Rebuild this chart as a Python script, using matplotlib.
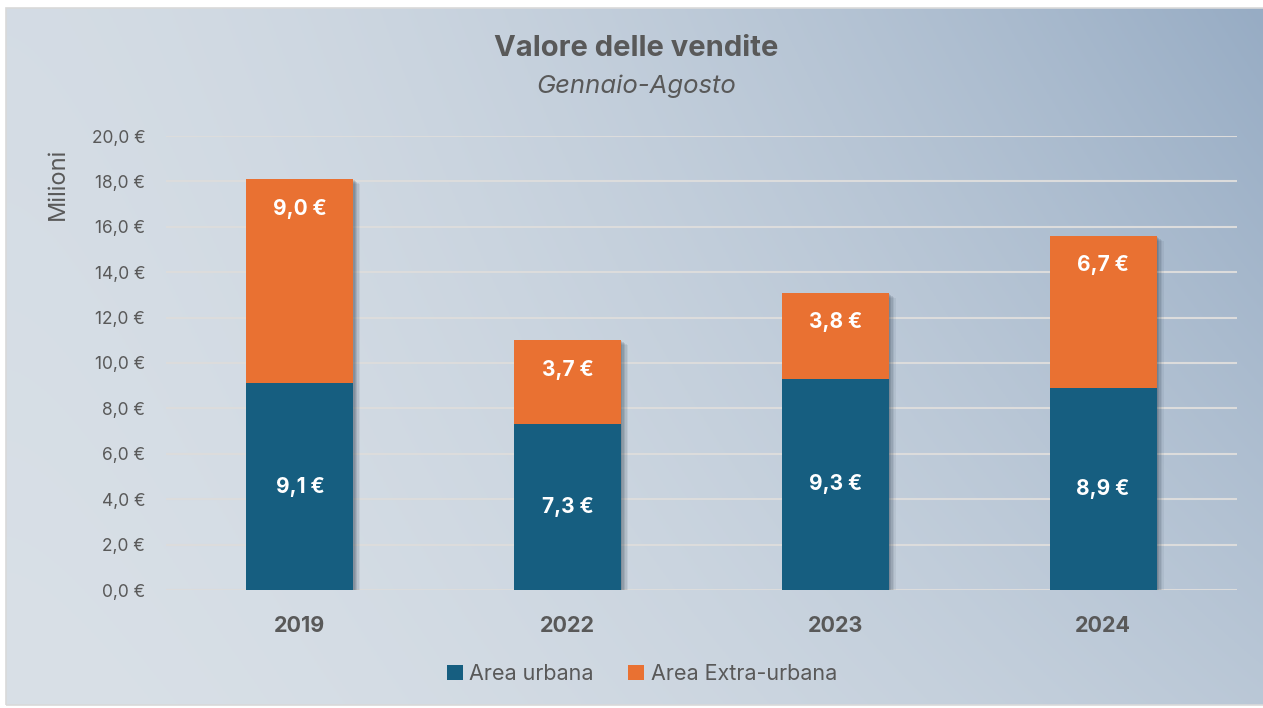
import numpy as np
import matplotlib
matplotlib.use("Agg")
import matplotlib.pyplot as plt
from matplotlib.transforms import ScaledTranslation
from matplotlib.patches import Rectangle

years = ["2019", "2022", "2023", "2024"]
urbana = [9.1, 7.3, 9.3, 8.9]
extra = [9.0, 3.7, 3.8, 6.7]
yticks = [0, 2, 4, 6, 8, 10, 12, 14, 16, 18, 20]
title = "Valore delle vendite"
subtitle = "Gennaio-Agosto"
ylabel = "Milioni"
legend_labels = ["Area urbana", "Area Extra-urbana"]

BLUE = "#165E80"
ORANGE = "#E97132"
TXT = "#595959"

plt.rcParams['font.family'] = ['Inter', 'DejaVu Sans']

W, H = 1263, 708
fig = plt.figure(figsize=(W / 100, H / 100), dpi=100)
fig.patch.set_facecolor("white")

# gradient background
bg = fig.add_axes([0, 0, 1, 1], zorder=-10)
bg.set_axis_off()
u = np.linspace(0, 1, 400)[None, :]
v = np.linspace(1, 0, 300)[:, None]
up = u ** 1.6
t = 0.47 * up + 0.08 * v + 0.45 * up * v
light = np.array([217, 224, 231]) / 255
dark = np.array([151, 172, 196]) / 255
img = light[None, None, :] * (1 - t[..., None]) + dark[None, None, :] * t[..., None]
x0, y0 = 6 / W, 1 - 705 / H
x1, y1 = 1.0, 1 - 8 / H
bg.set_xlim(0, 1)
bg.set_ylim(0, 1)
bg.imshow(img, extent=[x0, x1, y0, y1], aspect="auto", origin="upper")
bg.add_patch(Rectangle((x0, y0), x1 - x0 + 0.01, y1 - y0, fill=False,
                       edgecolor="#D9D9D9", linewidth=1.2))

ax = fig.add_axes([166 / W, 1 - 590 / H, (1237 - 166) / W, (590 - 136) / H])
ax.patch.set_alpha(0)
x = np.arange(len(years))
width = 0.4
totals = [a + b for a, b in zip(urbana, extra)]

# shadows
for dx, dy, a in [(0.07, -0.05, 0.07), (0.055, -0.04, 0.09), (0.04, -0.03, 0.12),
                  (0.025, -0.02, 0.14), (0.012, -0.01, 0.14)]:
    tr = ax.transData + ScaledTranslation(dx, dy, fig.dpi_scale_trans)
    ax.bar(x, totals, width, color="#2A3A4A", alpha=a, transform=tr, zorder=1, linewidth=0)

ax.bar(x, urbana, width, color=BLUE, zorder=3, label=legend_labels[0], linewidth=0)
ax.bar(x, extra, width, bottom=urbana, color=ORANGE, zorder=3, label=legend_labels[1], linewidth=0)

for i in range(len(years)):
    ax.text(x[i], urbana[i] / 2, f"{urbana[i]:.1f} €".replace(".", ","), ha="center", va="center",
            color="white", fontsize=15, fontweight="bold", zorder=5)
    ax.text(x[i], urbana[i] + extra[i] - 1.3, f"{extra[i]:.1f} €".replace(".", ","), ha="center", va="center",
            color="white", fontsize=15, fontweight="bold", zorder=5)

ax.set_xlim(-0.5, 3.5)
ax.set_ylim(0, 20)
ax.set_yticks(yticks)
ax.set_yticklabels([f"{v:.1f} €".replace(".", ",") for v in yticks])
ax.set_xticks(x)
ax.set_xticklabels(years, fontweight="bold")
ax.tick_params(axis="y", length=0, pad=15, labelsize=12.5, labelcolor=TXT)
ax.tick_params(axis="x", length=0, pad=19, labelsize=15.5, labelcolor=TXT)
ax.grid(axis="y", color="#DCDCDC", linewidth=1.5, zorder=0)
ax.set_axisbelow(True)
for s in ax.spines.values():
    s.set_visible(False)

fig.text(636 / W, 1 - 49 / H, title, ha="center", va="center", fontsize=21, fontweight="bold", color=TXT)
fig.text(636 / W, 1 - 86 / H, subtitle, ha="center", va="center", fontsize=18.5, style="italic", color=TXT)
fig.text(58 / W, 1 - 184 / H, ylabel, ha="center", va="center", rotation=90, fontsize=17, color=TXT)

leg = fig.legend(loc="center", bbox_to_anchor=(642 / W, 1 - 674 / H), ncol=2, frameon=False,
                 fontsize=15.5, labelcolor=TXT, handlelength=0.75, handleheight=0.75,
                 handletextpad=0.3, columnspacing=1.6)

fig.savefig("out.png", dpi=100)
